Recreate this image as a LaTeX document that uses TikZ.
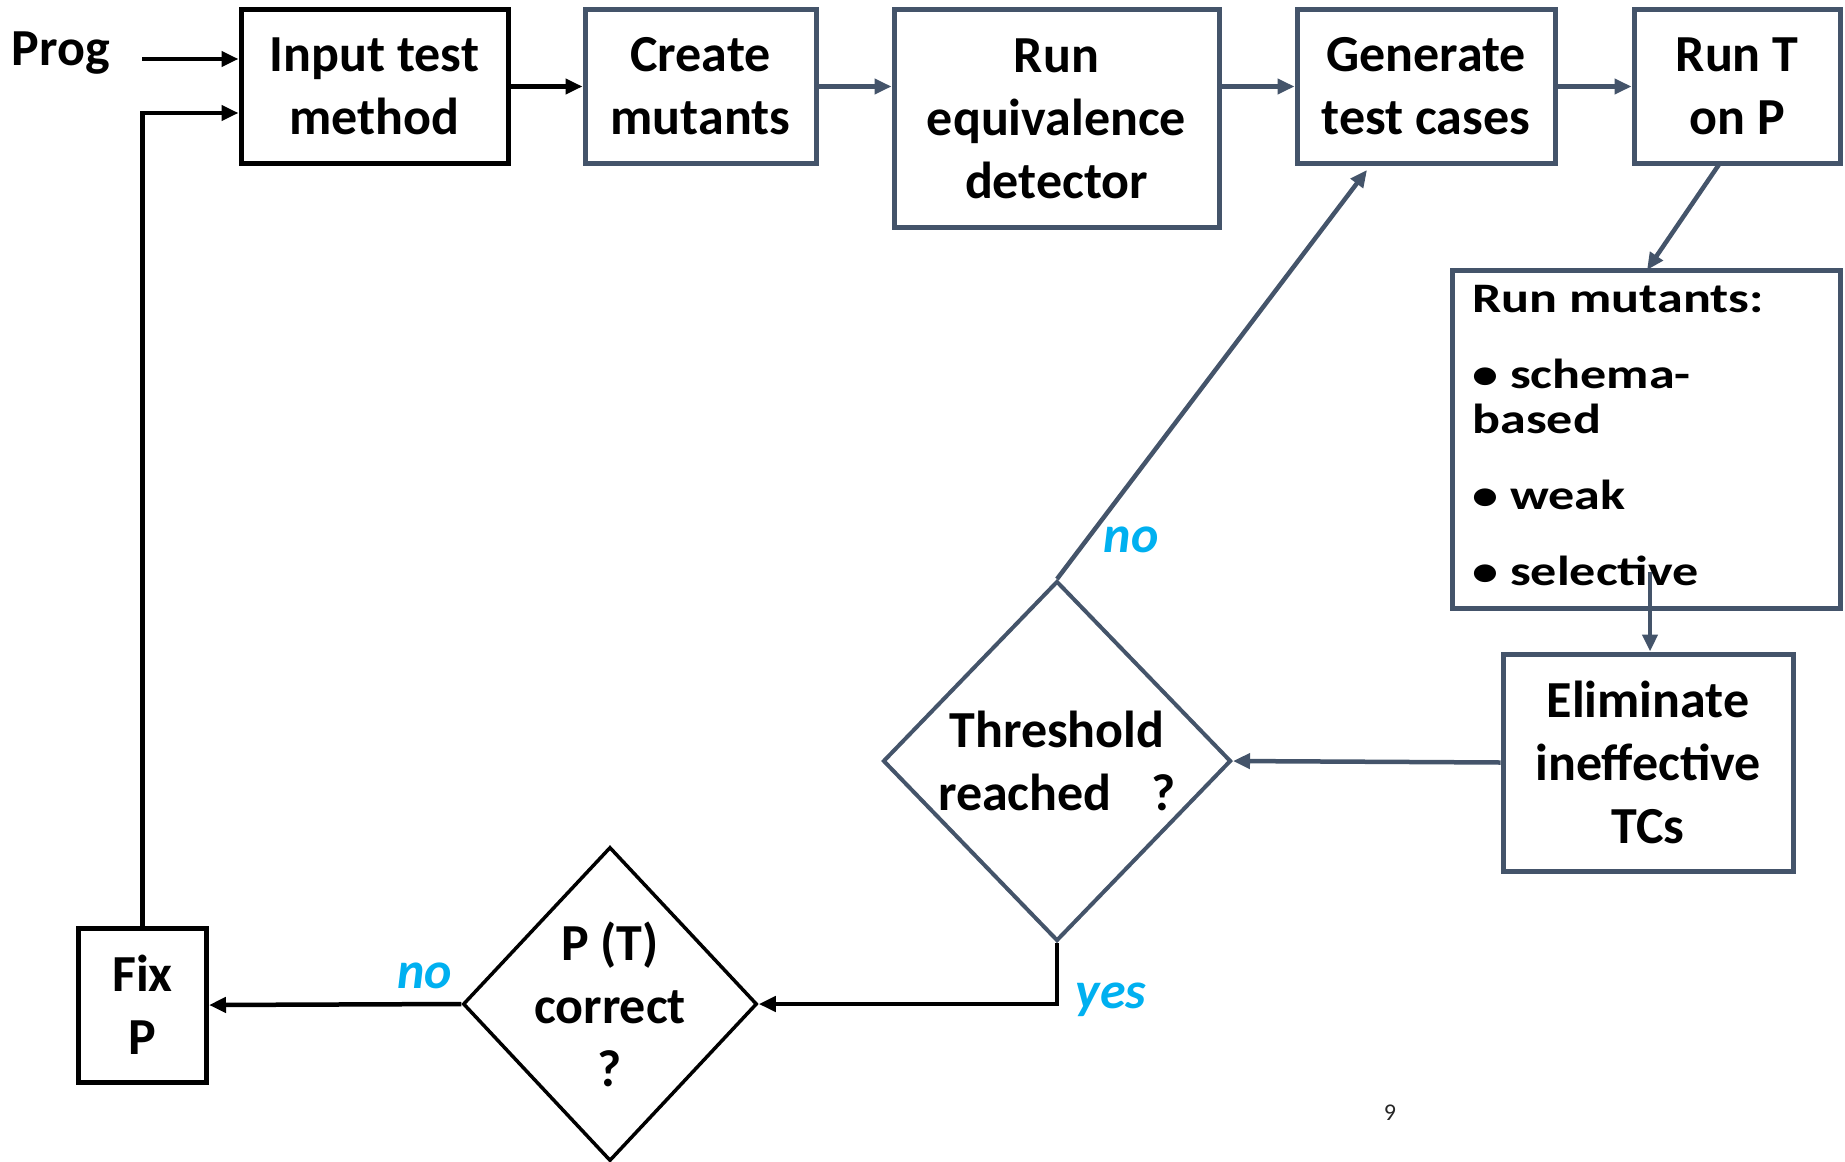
\documentclass[tikz,border=0pt]{standalone}
\usepackage{fontspec}
\setmainfont{Carlito}
\newfontfamily\widefont[FakeStretch=1.24]{Carlito}
\usetikzlibrary{arrows.meta,shapes.geometric}
\definecolor{slate}{HTML}{44546A}
\definecolor{lblue}{HTML}{00B0F0}
\begin{document}
\begin{tikzpicture}[x=0.5pt,y=-0.5pt,
  txt/.style={font=\fontsize{26pt}{31.5pt}\selectfont\bfseries, align=center},
  sbox/.style={draw=slate, line width=2.5pt, txt, inner sep=0pt},
  kbox/.style={draw=black, line width=2.5pt, txt, inner sep=0pt},
  sdia/.style={diamond, draw=slate, line width=2pt, inner sep=0pt},
  kdia/.style={diamond, draw=black, line width=1.75pt, inner sep=0pt},
  sarr/.style={draw=slate, line width=2.25pt, -{Triangle[length=8.5pt,width=7.5pt]}},
  karr/.style={draw=black, line width=2.25pt, -{Triangle[length=8.5pt,width=7.5pt]}},
  lab/.style={font=\fontsize{26pt}{31.5pt}\selectfont\bfseries\itshape, text=lblue, anchor=base, inner sep=0pt}]

\useasboundingbox (0,0) rectangle (1845,1161);

% boxes
\node[kbox, minimum width=133.5pt, minimum height=76.5pt] (inp) at (374.5,86.5) {Input test\\method};
\node[sbox, minimum width=115.5pt, minimum height=76.5pt] (cre) at (700.5,86.5) {Create\\mutants};
\node[sbox, minimum width=162.5pt, minimum height=108.5pt] (equ) at (1056.5,118.5) {Run\\equivalence\\detector};
\node[sbox, minimum width=129pt, minimum height=76.5pt] (gen) at (1426,86.5) {Generate\\test cases};
\node[sbox, minimum width=103pt, minimum height=76.5pt] (runt) at (1737,86.5) {Run T\\on P};
\node[sbox, minimum width=194pt, minimum height=169pt] (rmut) at (1646,439) {};
\node[anchor=north west, inner sep=0pt, align=left,
      font=\widefont\bfseries\fontsize{21pt}{22.5pt}\selectfont] (rmtxt) at (1472,285)
      {Run mutants:\\[15.5pt]• schema-\\based\\[15.5pt]• weak\\[15.5pt]• selective};
\node[sbox, minimum width=145pt, minimum height=108.5pt] (elim) at (1648,762.5) {Eliminate\\ineffective\\TCs};
\node[kbox, minimum width=64pt, minimum height=77pt] (fix) at (142.5,1005) {Fix\\P};

% diamonds
\node[sdia, minimum width=174pt, minimum height=180pt,
      label={[txt]center:Threshold\\reached\hspace{20pt}?}] (thr) at (1057,761) {};
\node[kdia, minimum width=147pt, minimum height=157pt,
      label={[txt]center:P (T)\\correct\\?}] (pt) at (610,1004) {};

% free text
\node[txt, anchor=base] (prog) at (61,66) {Prog};
\node[lab] (no1) at (1131,552) {no};
\node[lab] (no2) at (425,988) {no};
\node[lab] (yes) at (1111,1008) {yes};
\node[font=\fontsize{12pt}{14pt}\selectfont, anchor=base, text=black!85] (pg) at (1390,1120) {9};

% helper coordinates
\coordinate (progout) at (142,59);
\coordinate (looprow) at (0,113);
\coordinate (runtout) at (1720,163);
\coordinate (rmutin) at (1647,270);
\coordinate (rmutsrc) at (1650,572);
\coordinate (genin) at (1367,170);

% connectors
\draw[karr] (progout) -- (inp.west |- progout);
\draw[karr] (fix.north) |- (inp.west |- looprow);
\draw[karr] (inp.east) -- (cre.west);
\draw[sarr] (cre.east) -- (cre.east -| equ.west);
\draw[sarr] (gen.west -| equ.east) -- (gen.west);
\draw[sarr] (gen.east) -- (runt.west);
\draw[sarr] (runtout) -- (rmutin);
\draw[sarr] (rmutsrc) -- (rmutsrc |- elim.north);
\draw[sarr] (elim.west) -- (thr.east);
\draw[sarr] (thr.north) -- (genin);
\draw[karr] (thr.south) |- (pt.east);
\draw[karr] (pt.west) -- (fix.east);
\end{tikzpicture}
\end{document}
